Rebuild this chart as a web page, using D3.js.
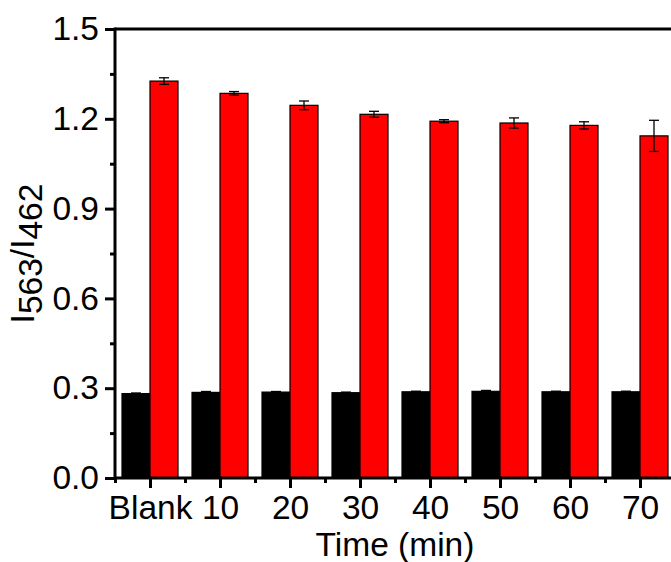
<!DOCTYPE html>
<html>
<head>
<meta charset="utf-8">
<script src="https://cdn.jsdelivr.net/npm/d3@7"></script>
<style>
  html, body { margin: 0; padding: 0; background: #fff; }
  svg { display: block; }
  text { font-family: "Liberation Sans", Arial, sans-serif; fill: #000; }
</style>
</head>
<body>
<svg id="chart" width="671" height="562"></svg>
<script>
const categories = ["Blank", "10", "20", "30", "40", "50", "60", "70"];
const blackValues = [0.282, 0.286, 0.287, 0.285, 0.288, 0.2895, 0.288, 0.288];
const blackErrors = [0.002, 0.003, 0.002, 0.002, 0.002, 0.003, 0.002, 0.002];
const redValues = [1.326, 1.285, 1.245, 1.215, 1.192, 1.186, 1.178, 1.143];
const redErrors = [0.011, 0.006, 0.0145, 0.010, 0.005, 0.017, 0.012, 0.052];
const yTicks = [0.0, 0.3, 0.6, 0.9, 1.2, 1.5];
const yMinorTicks = [0.15, 0.45, 0.75, 1.05, 1.35];

const svg = d3.select("#chart");
const plotLeft = 115, plotRight = 675, plotTop = 29, plotBottom = 478;
const barW = 28;
const fontSize = 33.5;
const axisW = 3;

const x = d3.scaleLinear().domain([0.5, categories.length + 0.5]).range([plotLeft, plotRight]);
const y = d3.scaleLinear().domain([0, 1.5]).range([plotBottom, plotTop]);

const series = [
  { values: blackValues, errors: blackErrors, color: "#000000", offset: -barW },
  { values: redValues, errors: redErrors, color: "#ff0000", offset: 0 }
];

series.forEach(s => {
  const g = svg.append("g");
  g.selectAll("rect").data(s.values).enter().append("rect")
    .attr("x", (d, i) => x(i + 1) + s.offset)
    .attr("y", d => y(d))
    .attr("width", barW)
    .attr("height", d => y(0) - y(d))
    .attr("fill", s.color)
    .attr("stroke", "#000")
    .attr("stroke-width", 1.2);
  const eg = svg.append("g").attr("stroke", "#000").attr("stroke-width", 1.3);
  s.values.forEach((d, i) => {
    const cx = x(i + 1) + s.offset + barW / 2;
    const e = s.errors[i];
    eg.append("line").attr("x1", cx).attr("x2", cx).attr("y1", y(d + e)).attr("y2", y(d - e));
    eg.append("line").attr("x1", cx - 5).attr("x2", cx + 5).attr("y1", y(d + e)).attr("y2", y(d + e));
    eg.append("line").attr("x1", cx - 5).attr("x2", cx + 5).attr("y1", y(d - e)).attr("y2", y(d - e));
  });
});

// y axis
const yAxis = d3.axisLeft(y).tickValues(yTicks).tickFormat(d3.format(".1f")).tickSize(10).tickPadding(6);
const gy = svg.append("g").attr("transform", `translate(${plotLeft},0)`).call(yAxis);
gy.select(".domain").remove();
gy.selectAll(".tick line").attr("stroke-width", axisW);
gy.selectAll(".tick text").style("font-size", fontSize + "px").style("font-family", "'Liberation Sans', Arial, sans-serif");
const gyMinor = svg.append("g").attr("transform", `translate(${plotLeft},0)`)
  .call(d3.axisLeft(y).tickValues(yMinorTicks).tickFormat("").tickSize(5));
gyMinor.select(".domain").remove();
gyMinor.selectAll(".tick line").attr("stroke-width", axisW);

// x axis
const xAxis = d3.axisBottom(x).tickValues(d3.range(1, categories.length + 1))
  .tickFormat(d => categories[d - 1]).tickSize(10).tickPadding(7);
const gx = svg.append("g").attr("transform", `translate(0,${plotBottom})`).call(xAxis);
gx.select(".domain").remove();
gx.selectAll(".tick line").attr("stroke-width", axisW);
gx.selectAll(".tick text").style("font-size", fontSize + "px").style("font-family", "'Liberation Sans', Arial, sans-serif");
const gxMinor = svg.append("g").attr("transform", `translate(0,${plotBottom})`)
  .call(d3.axisBottom(x).tickValues(d3.range(0.5, categories.length + 1, 1)).tickFormat("").tickSize(5));
gxMinor.select(".domain").remove();
gxMinor.selectAll(".tick line").attr("stroke-width", axisW);

// frame
const frame = svg.append("g").attr("stroke", "#000").attr("stroke-width", axisW).attr("fill", "none");
frame.append("line").attr("x1", plotLeft).attr("x2", plotRight).attr("y1", plotTop).attr("y2", plotTop);
frame.append("line").attr("x1", plotLeft).attr("x2", plotRight).attr("y1", plotBottom).attr("y2", plotBottom);
frame.append("line").attr("x1", plotLeft).attr("x2", plotLeft).attr("y1", plotTop - 1.5).attr("y2", plotBottom + 1.5);
frame.append("line").attr("x1", plotRight).attr("x2", plotRight).attr("y1", plotTop).attr("y2", plotBottom);

// axis titles
svg.append("text")
  .attr("x", (plotLeft + plotRight) / 2).attr("y", 556)
  .attr("text-anchor", "middle")
  .style("font-size", fontSize + "px")
  .text("Time (min)");

const yt = svg.append("text")
  .attr("transform", `translate(34,${(plotTop + plotBottom) / 2}) rotate(-90)`)
  .attr("text-anchor", "middle")
  .style("font-size", fontSize + "px");
yt.append("tspan").text("I");
yt.append("tspan").attr("dy", 8).text("563");
yt.append("tspan").attr("dy", -8).text("/I");
yt.append("tspan").attr("dy", 8).text("462");
</script>
</body>
</html>
